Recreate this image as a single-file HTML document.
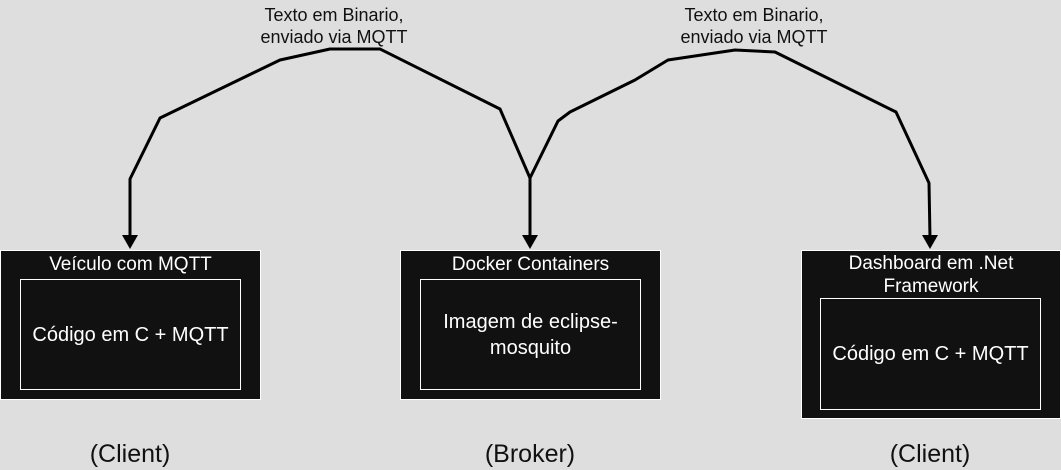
<!DOCTYPE html>
<html><head><meta charset="utf-8"><style>
body{margin:0;width:1061px;height:470px;background:#dedede;position:relative;overflow:hidden;font-family:"Liberation Sans",sans-serif}
.b{position:absolute;background:#111;border:1px solid #fff;box-sizing:border-box;color:#fff;font-size:19px;text-align:center}
.i{position:absolute;border:1px solid #fff;box-sizing:border-box;color:#fff;font-size:20px;display:flex;align-items:center;justify-content:center;text-align:center;line-height:26px}
.t{position:absolute;font-size:18px;text-align:center;color:#111;line-height:22px}
.c{position:absolute;font-size:25px;color:#111;text-align:center;width:200px}
</style></head><body>
<svg width="1061" height="470" style="position:absolute;left:0;top:0">
<g fill="none" stroke="#000" stroke-width="3" stroke-linejoin="round">
<polyline points="130,238 130,179 160,118 280,60 330,49 380,49 500,109 530,178 530,238"/>
<polyline points="530,178 558,121 570,112 635,80 668,60 735,50 775,52 896,112 929,183 930,238"/>
</g>
<g fill="#000">
<polygon points="122,235 138,235 130,249"/>
<polygon points="522,235 538,235 530,249"/>
<polygon points="922,235 938,235 930,249"/>
</g>
</svg>
<div class="t" style="left:234px;top:4px;width:200px">Texto em Binario,<br>enviado via MQTT</div>
<div class="t" style="left:654px;top:4px;width:200px">Texto em Binario,<br>enviado via MQTT</div>
<div class="b" style="left:0;top:250px;width:261px;height:150px;line-height:28px">Veículo com MQTT</div>
<div class="i" style="left:20px;top:279px;width:221px;height:111px">Código em C + MQTT</div>
<div class="b" style="left:400px;top:250px;width:261px;height:150px;line-height:28px">Docker Containers</div>
<div class="i" style="left:420px;top:279px;width:221px;height:111px">Imagem de eclipse-<br>mosquito</div>
<div class="b" style="left:801px;top:250px;width:260px;height:169px;line-height:23px;padding-top:1px">Dashboard em .Net<br>Framework</div>
<div class="i" style="left:820px;top:298px;width:221px;height:112px">Código em C + MQTT</div>
<div class="c" style="left:30px;top:440px">(Client)</div>
<div class="c" style="left:430px;top:440px">(Broker)</div>
<div class="c" style="left:830px;top:440px">(Client)</div>
</body></html>
